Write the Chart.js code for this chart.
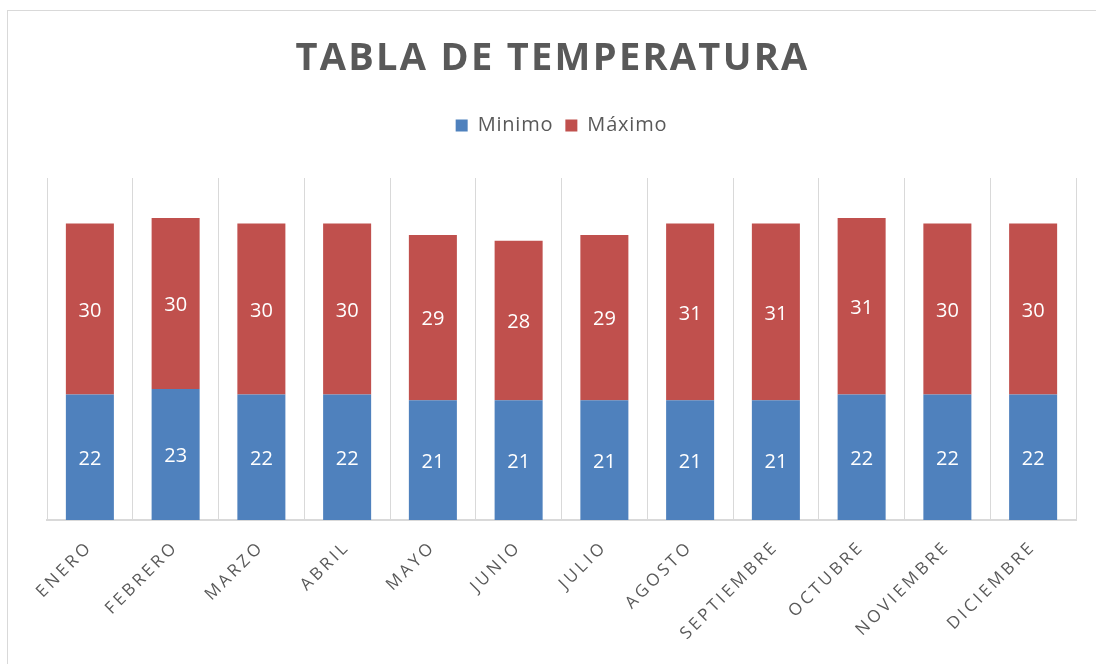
<!DOCTYPE html>
<html>
<head>
<meta charset="utf-8">
<script src="https://cdn.jsdelivr.net/npm/chart.js@4"></script>
<style>
  html, body { margin: 0; padding: 0; background: #fff; }
  #frame { position: absolute; left: 7px; top: 10px; width: 1200px; height: 800px; border: 1px solid #d9d9d9; }
  #chart { position: absolute; left: 0; top: 0; }
</style>
</head>
<body>
<div id="frame"></div>
<canvas id="chart" width="1096" height="664"></canvas>
<script>
  const meses = ['ENERO', 'FEBRERO', 'MARZO', 'ABRIL', 'MAYO', 'JUNIO', 'JULIO', 'AGOSTO', 'SEPTIEMBRE', 'OCTUBRE', 'NOVIEMBRE', 'DICIEMBRE'];
  const minimo = [22, 23, 22, 22, 21, 21, 21, 21, 21, 22, 22, 22];
  const maximo = [30, 30, 30, 30, 29, 28, 29, 31, 31, 31, 30, 30];

  const gris = '#595959';
  const fuente = "'Open Sans', sans-serif";

  // espaciado de letras: titulo y eje con mas aire, leyenda casi normal
  const espaciado = {
    id: 'espaciado',
    afterInit(chart) {
      const legend = chart.legend;
      const fit = legend.fit;
      legend.fit = function() {
        const ctx = this.ctx;
        const prev = ctx.letterSpacing;
        ctx.letterSpacing = '0.8px';
        fit.call(this);
        ctx.letterSpacing = prev;
        this.height = 74.4;
      };
      const draw = legend.draw;
      legend.draw = function() {
        const ctx = this.ctx;
        const prev = ctx.letterSpacing;
        ctx.letterSpacing = '0.8px';
        draw.call(this);
        ctx.letterSpacing = prev;
      };
      const title = chart.titleBlock;
      const drawTitle = title.draw;
      title.draw = function() {
        const ctx = this.ctx;
        ctx.save();
        ctx.letterSpacing = '2.3px';
        ctx.translate(-9, 0);
        drawTitle.call(this);
        ctx.restore();
      };
    },
    beforeUpdate(chart) { chart.ctx.letterSpacing = '3.2px'; },
    beforeDraw(chart) { chart.ctx.letterSpacing = '3.2px'; }
  };

  // valores dentro de cada segmento
  const etiquetas = {
    id: 'etiquetas',
    afterDatasetsDraw(chart) {
      const ctx = chart.ctx;
      ctx.save();
      ctx.letterSpacing = '0px';
      ctx.font = '20px ' + fuente;
      ctx.fillStyle = '#ffffff';
      ctx.textAlign = 'center';
      ctx.textBaseline = 'middle';
      chart.data.datasets.forEach(function(ds, i) {
        chart.getDatasetMeta(i).data.forEach(function(bar, j) {
          ctx.fillText(ds.data[j], bar.x, (bar.y + bar.base) / 2 + 2);
        });
      });
      ctx.restore();
    }
  };

  new Chart(document.getElementById('chart'), {
    type: 'bar',
    data: {
      labels: meses,
      datasets: [
        { label: 'Minimo', data: minimo, backgroundColor: '#4f81bd' },
        { label: 'Máximo', data: maximo, backgroundColor: '#c0504d' }
      ]
    },
    options: {
      responsive: false,
      animation: false,
      devicePixelRatio: 1,
      layout: { padding: { left: 47, right: 20, top: 0, bottom: 0 } },
      datasets: { bar: { barPercentage: 0.56, categoryPercentage: 1 } },
      plugins: {
        title: {
          display: true,
          text: 'TABLA DE TEMPERATURA',
          color: gris,
          font: { family: fuente, size: 38, weight: 'bold', lineHeight: 1.2 },
          padding: { top: 36, bottom: 22 }
        },
        legend: {
          display: true,
          labels: {
            color: gris,
            font: { family: fuente, size: 20 },
            boxWidth: 12,
            boxHeight: 12,
            padding: 12
          }
        },
        tooltip: { enabled: false }
      },
      scales: {
        x: {
          stacked: true,
          grid: { display: true, offset: true, color: '#d9d9d9', drawTicks: false },
          border: { color: '#d9d9d9', width: 2 },
          ticks: {
            color: gris,
            font: { family: fuente, size: 17 },
            minRotation: 45,
            maxRotation: 45,
            padding: 17
          },
          afterFit(scale) { scale.height = 144; }
        },
        y: {
          stacked: true,
          display: false,
          min: 0,
          max: 60
        }
      }
    },
    plugins: [espaciado, etiquetas]
  });
</script>
</body>
</html>
